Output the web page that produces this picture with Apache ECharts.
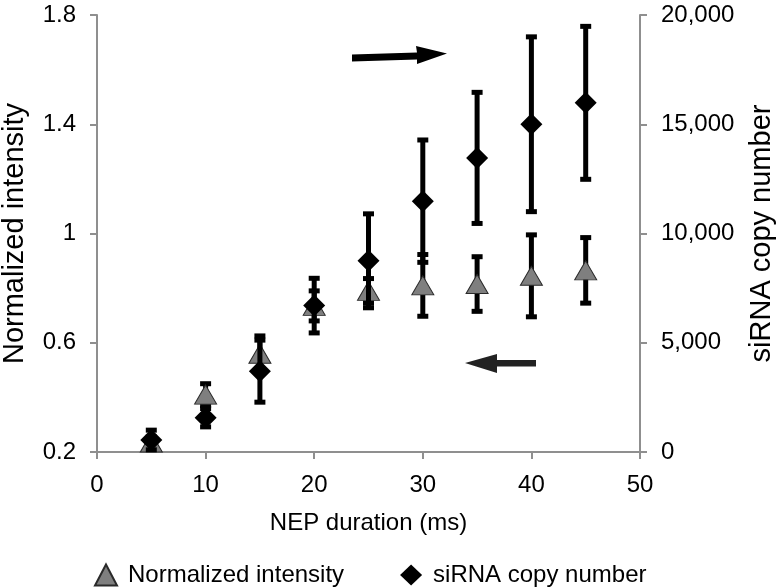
<!DOCTYPE html>
<html>
<head>
<meta charset="utf-8">
<script src="https://cdn.jsdelivr.net/npm/echarts@6/dist/echarts.min.js"></script>
<style>
html,body{margin:0;padding:0;background:#fff;}
#chart{width:780px;height:588px;}
</style>
</head>
<body>
<div id="chart"></div>
<script>
// ---- data ----
var durations = [5, 10, 15, 20, 25, 30, 35, 40, 45];
var intensity = [0.235, 0.41, 0.56, 0.735, 0.79, 0.81, 0.815, 0.845, 0.865];
var intensityErr = [0.02, 0.04, 0.065, 0.055, 0.045, 0.113, 0.1, 0.15, 0.12];
var copies = [550, 1570, 3700, 6700, 8750, 11480, 13460, 15000, 15980];
var copiesErr = [450, 420, 1420, 1250, 2150, 2800, 3000, 4000, 3500];
var xTicks = [0, 10, 20, 30, 40, 50];
var leftTicks = [0.2, 0.6, 1.0, 1.4, 1.8];
var rightTicks = [0, 5000, 10000, 15000, 20000];
var seriesNames = ['Normalized intensity', 'siRNA copy number'];

var FONT = '"Liberation Sans", Arial, Helvetica, sans-serif';
var AXIS_COLOR = '#8f8f8f';

function pairs(xs, ys) { return xs.map(function (x, i) { return [x, ys[i]]; }); }
function errData(xs, ys, es) { return xs.map(function (x, i) { return [x, ys[i] - es[i], ys[i] + es[i]]; }); }

function errRender(params, api) {
  var x = api.value(0), lo = api.value(1), hi = api.value(2);
  var pHi = api.coord([x, hi]);
  var pLo = api.coord([x, lo]);
  var capW = 11, capH = 5;
  var st = { fill: '#000' };
  return {
    type: 'group',
    children: [
      { type: 'rect', shape: { x: pHi[0] - 2.5, y: pHi[1], width: 5, height: pLo[1] - pHi[1] }, style: st },
      { type: 'rect', shape: { x: pHi[0] - capW / 2, y: pHi[1] - capH / 2, width: capW, height: capH }, style: st },
      { type: 'rect', shape: { x: pLo[0] - capW / 2, y: pLo[1] - capH / 2, width: capW, height: capH }, style: st }
    ]
  };
}

var axisCommon = {
  axisLine: { show: true, lineStyle: { color: AXIS_COLOR, width: 2 } },
  axisTick: { show: true, inside: false, length: 7, lineStyle: { color: AXIS_COLOR, width: 2 } },
  splitLine: { show: false },
  axisLabel: { color: '#000', fontSize: 24, fontFamily: FONT },
  nameTextStyle: { color: '#000', fontSize: 24, fontFamily: FONT }
};

var chart = echarts.init(document.getElementById('chart'), null, { renderer: 'canvas' });
var option = {
  animation: false,
  backgroundColor: '#fff',
  grid: { left: 97, right: 140, top: 15, bottom: 136, containLabel: false, outerBoundsMode: 'none' },
  legend: {
    data: [
      { name: seriesNames[0], icon: 'triangle' },
      { name: seriesNames[1], icon: 'diamond' }
    ],
    left: 89, top: 558,
    itemWidth: 22, itemHeight: 21, itemGap: 56,
    textStyle: { color: '#000', fontSize: 24, fontFamily: FONT, padding: [0, 0, 0, 6] }
  },
  xAxis: Object.assign({}, axisCommon, {
    type: 'value', min: xTicks[0], max: xTicks[xTicks.length - 1], interval: 10,
    name: 'NEP duration (ms)', nameLocation: 'middle', nameGap: 59,
    axisLabel: Object.assign({}, axisCommon.axisLabel, { margin: 21 })
  }),
  yAxis: [
    Object.assign({}, axisCommon, {
      type: 'value', min: leftTicks[0], max: leftTicks[leftTicks.length - 1], interval: 0.4,
      position: 'left',
      name: 'Normalized intensity', nameLocation: 'middle', nameGap: 68, nameRotate: 90,
      nameTextStyle: { color: '#000', fontSize: 29, fontFamily: FONT },
      axisLabel: Object.assign({}, axisCommon.axisLabel, {
        margin: 21,
        formatter: function (v) { return String(+v.toFixed(1)); }
      })
    }),
    Object.assign({}, axisCommon, {
      type: 'value', min: rightTicks[0], max: rightTicks[rightTicks.length - 1], interval: 5000,
      position: 'right',
      name: 'siRNA copy number', nameLocation: 'middle', nameGap: 107, nameRotate: 90,
      nameTextStyle: { color: '#000', fontSize: 29, fontFamily: FONT },
      axisLabel: Object.assign({}, axisCommon.axisLabel, {
        margin: 21,
        formatter: function (v) { return v.toLocaleString('en-US'); }
      })
    })
  ],
  series: [
    {
      type: 'custom', name: 'intensityErr', xAxisIndex: 0, yAxisIndex: 0, z: 1,
      renderItem: errRender, data: errData(durations, intensity, intensityErr),
      encode: { x: 0, y: [1, 2] }, silent: true
    },
    {
      type: 'scatter', name: seriesNames[0], xAxisIndex: 0, yAxisIndex: 0, z: 2,
      symbol: 'triangle', symbolSize: [22, 19],
      itemStyle: { color: '#7f7f7f', borderColor: '#2a2a2a', borderWidth: 1, opacity: 1 },
      data: pairs(durations, intensity)
    },
    {
      type: 'custom', name: 'copiesErr', xAxisIndex: 0, yAxisIndex: 1, z: 3,
      renderItem: errRender, data: errData(durations, copies, copiesErr),
      encode: { x: 0, y: [1, 2] }, silent: true
    },
    {
      type: 'scatter', name: seriesNames[1], xAxisIndex: 0, yAxisIndex: 1, z: 4,
      symbol: 'diamond', symbolSize: [22, 22],
      itemStyle: { color: '#000', opacity: 1 },
      data: pairs(durations, copies)
    }
  ],
  graphic: [
    {
      type: 'polygon', z: 10,
      shape: { points: [[352, 54.5], [417, 52.5], [416, 46], [447, 53.5], [417, 64], [417, 59.5], [352, 61.5]] },
      style: { fill: '#000' }
    },
    {
      type: 'polygon', z: 10,
      shape: { points: [[465, 363], [497, 354], [497, 360], [536, 360], [536, 366.5], [497, 366.5], [497, 373]] },
      style: { fill: '#222' }
    }
  ]
};
chart.setOption(option);
</script>
</body>
</html>
